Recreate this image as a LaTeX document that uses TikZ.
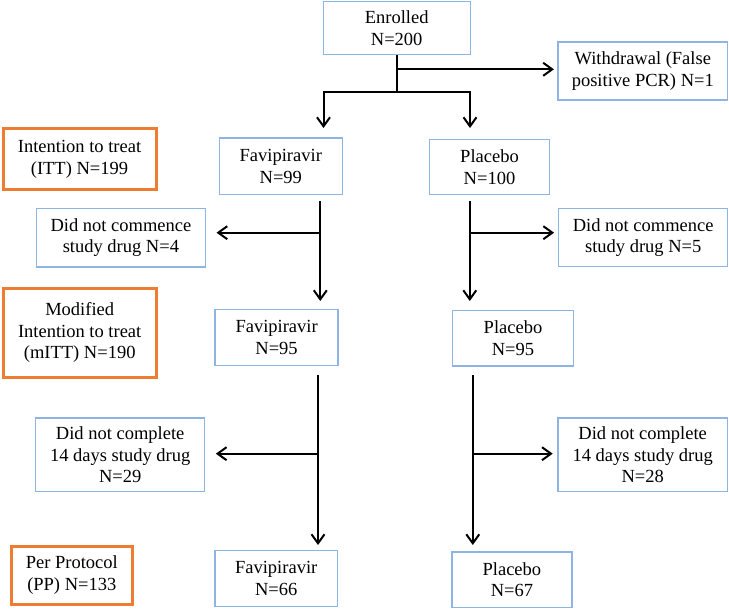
\documentclass[tikz,border=0pt]{standalone}
\usepackage{fontspec}
\setmainfont{Liberation Serif}
\usetikzlibrary{arrows.meta}
\definecolor{boxblue}{RGB}{141,180,226}
\definecolor{boxorange}{RGB}{237,125,49}
\begin{document}
\begin{tikzpicture}[x=1pt,y=-1pt,
  box/.style={draw=boxblue, line width=1.3pt, align=center, inner sep=0pt,
    font=\fontsize{18.5}{21.5}\selectfont},
  obox/.style={draw=boxorange, line width=3pt, align=center, inner sep=0pt,
    font=\fontsize{18.5}{21.5}\selectfont},
  ln/.style={line width=2pt, black},
  arr/.style={ln, -{Straight Barb[length=9pt,width=13pt]}}]
\useasboundingbox (0,0) rectangle (729,609);
% boxes
\node[box, minimum width=147pt, minimum height=53pt] (enr) at (396.7,28) {Enrolled\\N=200};
\node[box, minimum width=169.5pt, minimum height=58pt] (wd) at (642.8,71) {Withdrawal (False\\positive PCR) N=1};
\node[obox, minimum width=153pt, minimum height=61pt] (itt) at (79.5,159.5) {Intention to treat\\(ITT) N=199};
\node[box, minimum width=123pt, minimum height=56.7pt] (fav1) at (280.8,166.3) {Favipiravir\\N=99};
\node[box, minimum width=120pt, minimum height=55.4pt] (pla1) at (489.5,167) {Placebo\\N=100};
\node[box, minimum width=169pt, minimum height=58.3pt] (dnc1) at (120.9,237.8) {Did not commence\\study drug N=4};
\node[box, minimum width=169pt, minimum height=58pt] (dnc2) at (643.2,237.7) {Did not commence\\study drug N=5};
\node[obox, minimum width=153pt, minimum height=89pt] (mitt) at (79.7,332.8) {Modified\\Intention to treat\\(mITT) N=190};
\node[box, minimum width=123pt, minimum height=56.4pt] (fav2) at (276.6,337.5) {Favipiravir\\N=95};
\node[box, minimum width=120.4pt, minimum height=55.3pt] (pla2) at (513,338.3) {Placebo\\N=95};
\node[box, minimum width=169pt, minimum height=73.3pt] (dcp1) at (120.2,454.7) {Did not complete\\14 days study drug\\N=29};
\node[box, minimum width=169.7pt, minimum height=73.3pt] (dcp2) at (642.7,454.7) {Did not complete\\14 days study drug\\N=28};
\node[obox, minimum width=121pt, minimum height=58pt] (pp) at (71.8,575.3) {Per Protocol\\(PP) N=133};
\node[box, minimum width=122.7pt, minimum height=56.4pt] (fav3) at (276.2,578.5) {Favipiravir\\N=66};
\node[box, minimum width=120pt, minimum height=55.3pt] (pla3) at (511.9,579.7) {Placebo\\N=67};
% junction coordinates
\coordinate (j0) at (396.7,91.7);
\coordinate (w0) at (396.7,69.3);
\coordinate (t1) at (323.5,128);
\coordinate (t2) at (470,128);
\coordinate (f1s) at (320.3,201.3);
\coordinate (f1e) at (320.3,301);
\coordinate (f1b) at (320.3,232.7);
\coordinate (p1s) at (469.8,201.3);
\coordinate (p1e) at (469.8,301);
\coordinate (p1b) at (469.8,232.7);
\coordinate (f2s) at (318,375.3);
\coordinate (f2e) at (318,545);
\coordinate (f2b) at (318,453.7);
\coordinate (p2s) at (472.8,375.3);
\coordinate (p2e) at (472.8,545);
\coordinate (p2b) at (472.8,453.7);
% connectors
\draw[ln] (enr.south) -- (j0);
\draw[arr] (w0) -- (w0 -| wd.west) [shorten >=3.5pt];
\draw[arr] (j0) -| (t1);
\draw[arr] (j0) -| (t2);
\draw[arr] (f1s) -- (f1e);
\draw[arr] (f1b) -- ([xshift=10.5pt]f1b -| dnc1.east);
\draw[arr] (p1s) -- (p1e);
\draw[arr] (p1b) -- ([xshift=-4pt]p1b -| dnc2.west);
\draw[arr] (f2s) -- (f2e);
\draw[arr] (f2b) -- ([xshift=10.5pt]f2b -| dcp1.east);
\draw[arr] (p2s) -- (p2e);
\draw[arr] (p2b) -- ([xshift=-4.5pt]p2b -| dcp2.west);
\end{tikzpicture}
\end{document}
